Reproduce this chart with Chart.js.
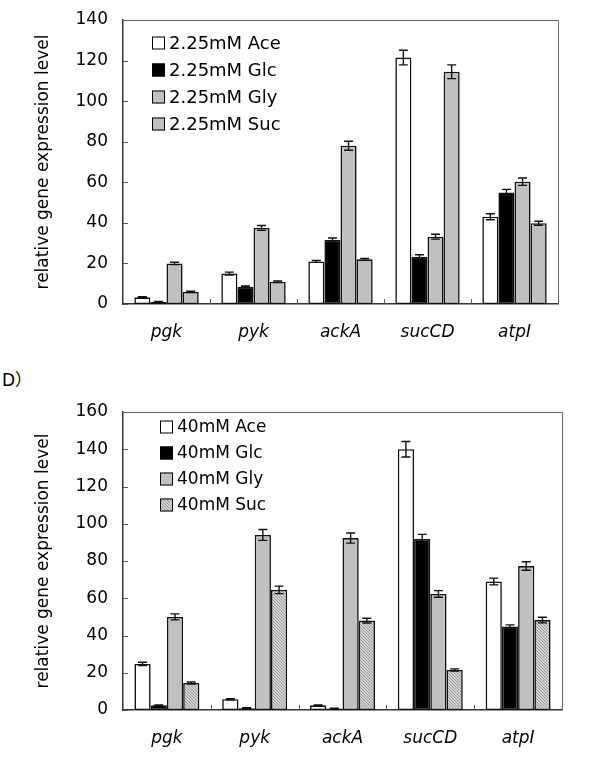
<!DOCTYPE html>
<html>
<head>
<meta charset="utf-8">
<script src="https://cdn.jsdelivr.net/npm/chart.js@4.4.1/dist/chart.umd.min.js"></script>
<style>
  html, body { margin: 0; padding: 0; background: #fff; }
  body { width: 592px; height: 767px; position: relative; overflow: hidden; }
  .box { position: absolute; left: 0; width: 592px; }
  #label { position: absolute; left: 2px; top: 366px; font: 17px "DejaVu Sans", "Noto Sans CJK SC", sans-serif; color: #000; }
</style>
</head>
<body>
<div class="box" style="top:0;height:350px"><canvas id="chartTop"></canvas></div>
<div id="label">D<span style="font-family:'Noto Sans CJK SC'">）</span></div>
<div class="box" style="top:390px;height:377px"><canvas id="chartBottom"></canvas></div>
<script>
// genes on the x axis
const genes = ['pgk', 'pyk', 'ackA', 'sucCD', 'atpI'];

// 2.25 mM carbon source (upper panel)
const lowLabels = ['2.25mM Ace', '2.25mM Glc', '2.25mM Gly', '2.25mM Suc'];
const lowAce = [3.3, 15, 21, 121.5, 43];
const lowGlc = [1, 8.5, 31.5, 23.3, 55];
const lowGly = [20, 37.5, 78, 33.2, 60.3];
const lowSuc = [6, 11, 22, 114.5, 39.8];
const lowAceErr = [0.3, 0.7, 0.5, 3.6, 1.5];
const lowGlcErr = [0.2, 0.4, 1, 1, 1.5];
const lowGlyErr = [0.6, 1.2, 2.2, 1.2, 1.8];
const lowSucErr = [0.3, 0.4, 0.5, 3.4, 1];

// 40 mM carbon source (lower panel)
const highLabels = ['40mM Ace', '40mM Glc', '40mM Gly', '40mM Suc'];
const highAce = [24.7, 5.8, 2.5, 140, 69];
const highGlc = [2.5, 1, 0.8, 91.8, 44.8];
const highGly = [50, 94, 92.3, 62.3, 77.3];
const highSuc = [14.5, 64.5, 48, 21.5, 48.3];
const highAceErr = [0.9, 0.3, 0.2, 4.2, 1.8];
const highGlcErr = [0.2, 0.2, 0.2, 2.5, 0.9];
const highGlyErr = [1.6, 2.9, 2.7, 1.8, 2.3];
const highSucErr = [0.5, 2, 1.3, 0.6, 1.5];

const FONT = '"DejaVu Sans", Arial, sans-serif';
const GRAY = '#c0c0c0';

// stippled fill used for the 40mM Suc bars
function stipple() {
  const c = document.createElement('canvas');
  c.width = 3; c.height = 3;
  const g = c.getContext('2d');
  g.fillStyle = '#d2d2d2';
  g.fillRect(0, 0, 3, 3);
  g.fillStyle = '#9a9a9a';
  g.fillRect(0, 0, 1, 1);
  g.fillRect(1, 1, 1, 1);
  g.fillRect(2, 2, 1, 1);
  return g.createPattern(c, 'repeat');
}

// error bars, inner ticks, frame and legend
const decorations = {
  id: 'decorations',
  afterDatasetsDraw(chart, args, opts) {
    const ctx = chart.ctx;
    const area = chart.chartArea;
    const y = chart.scales.y;
    ctx.save();
    ctx.strokeStyle = '#111';
    ctx.lineWidth = 1.4;
    chart.data.datasets.forEach((ds, di) => {
      const meta = chart.getDatasetMeta(di);
      ds.errors.forEach((e, i) => {
        const bar = meta.data[i];
        const v = ds.data[i];
        const y1 = y.getPixelForValue(v + e);
        const y2 = y.getPixelForValue(v - e);
        ctx.beginPath();
        ctx.moveTo(bar.x, y1); ctx.lineTo(bar.x, y2);
        ctx.moveTo(bar.x - 4.5, y1); ctx.lineTo(bar.x + 4.5, y1);
        ctx.moveTo(bar.x - 4.5, y2); ctx.lineTo(bar.x + 4.5, y2);
        ctx.stroke();
      });
    });
    // small inward ticks between categories and at y steps
    ctx.strokeStyle = '#555';
    ctx.lineWidth = 1;
    const step = (area.right - area.left) / genes.length;
    for (let i = 1; i < genes.length; i++) {
      const px = Math.round(area.left + step * i) + 0.5;
      ctx.beginPath();
      ctx.moveTo(px, area.bottom);
      ctx.lineTo(px, area.bottom - 5);
      ctx.stroke();
    }
    y.ticks.forEach(t => {
      const py = Math.round(y.getPixelForValue(t.value)) + 0.5;
      ctx.beginPath();
      ctx.moveTo(area.left, py);
      ctx.lineTo(area.left + 5, py);
      ctx.stroke();
    });
    // frame top and right
    ctx.strokeStyle = '#666';
    ctx.beginPath();
    ctx.moveTo(area.left, area.top + 0.5);
    ctx.lineTo(area.right + 0.5, area.top + 0.5);
    ctx.lineTo(area.right + 0.5, area.bottom);
    ctx.stroke();
    // legend
    ctx.font = opts.fontSize + 'px ' + FONT;
    ctx.textBaseline = 'middle';
    chart.data.datasets.forEach((ds, di) => {
      const cy = area.top + opts.top + di * opts.step;
      const bx = area.left + opts.left;
      ctx.fillStyle = ds.backgroundColor;
      ctx.fillRect(bx, cy - 6.5, 13, 13);
      ctx.strokeStyle = '#000';
      ctx.lineWidth = 1;
      ctx.strokeRect(bx + 0.5, cy - 6, 12, 12);
      ctx.fillStyle = '#000';
      ctx.fillText(ds.label, bx + 17, cy + 1);
    });
    ctx.restore();
  }
};

function makeChart(id, labels, series, errors, colors, yMax, pad, legend) {
  const datasets = series.map((d, i) => ({
    label: labels[i],
    data: d,
    errors: errors[i],
    backgroundColor: colors[i],
    borderColor: '#111',
    borderWidth: 1.6,
    borderSkipped: false
  }));
  return new Chart(document.getElementById(id), {
    type: 'bar',
    data: { labels: genes, datasets: datasets },
    plugins: [decorations],
    options: {
      responsive: true,
      maintainAspectRatio: false,
      animation: false,
      categoryPercentage: 0.74,
      barPercentage: 1,
      layout: { padding: pad },
      plugins: {
        legend: { display: false },
        tooltip: { enabled: false },
        decorations: legend
      },
      scales: {
        x: {
          grid: { display: false },
          border: { display: true, color: '#333', width: 1.5 },
          ticks: { color: '#000', padding: 10, font: { family: FONT, size: 17, style: 'italic' } },
          afterFit: s => { s.height = 40; s.paddingLeft = 0; s.paddingRight = 0; }
        },
        y: {
          min: 0,
          max: yMax,
          grid: { display: false, drawTicks: false },
          border: { display: true, color: '#333', width: 1.5 },
          ticks: { stepSize: 20, color: '#000', padding: 15, font: { family: FONT, size: 17 } },
          title: {
            display: true,
            text: 'relative gene expression level',
            color: '#000',
            padding: { top: 33, bottom: 0 },
            font: { family: FONT, size: 17 }
          },
          afterFit: s => { s.width = 123; s.paddingTop = 0; s.paddingBottom = 0; }
        }
      }
    }
  });
}

makeChart('chartTop', lowLabels,
  [lowAce, lowGlc, lowGly, lowSuc],
  [lowAceErr, lowGlcErr, lowGlyErr, lowSucErr],
  ['#ffffff', '#000000', GRAY, GRAY],
  140, { left: 0, top: 20, right: 34, bottom: 6 },
  { left: 29, top: 23, step: 27, fontSize: 18 });

makeChart('chartBottom', highLabels,
  [highAce, highGlc, highGly, highSuc],
  [highAceErr, highGlcErr, highGlyErr, highSucErr],
  ['#ffffff', '#000000', GRAY, stipple()],
  160, { left: 0, top: 22, right: 30, bottom: 17 },
  { left: 37, top: 15, step: 26, fontSize: 17 });
</script>
</body>
</html>
